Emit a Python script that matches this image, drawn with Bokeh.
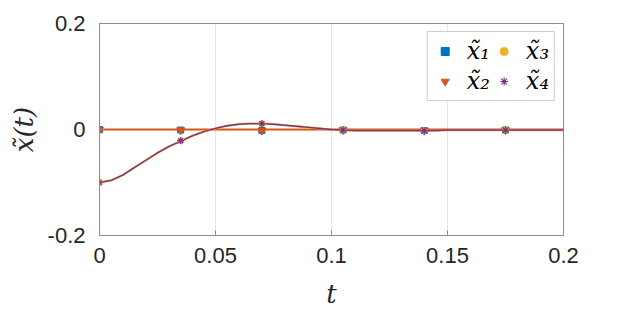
from bokeh.plotting import figure
from bokeh.models import Range1d, FixedTicker, LegendItem, Legend
from bokeh.embed import file_html
from bokeh.resources import INLINE

# ---- data ----
t_line = [0.000, 0.005, 0.010, 0.015, 0.020, 0.025, 0.030, 0.035, 0.040, 0.045,
          0.050, 0.055, 0.060, 0.065, 0.070, 0.075, 0.080, 0.085, 0.090, 0.095,
          0.100, 0.105, 0.110, 0.115, 0.120, 0.125, 0.130, 0.135, 0.140, 0.145,
          0.150, 0.155, 0.160, 0.165, 0.170, 0.175, 0.180, 0.185, 0.190, 0.195, 0.200]
x1_line = [0.000, 0.000, 0.000, 0.000, 0.000, 0.000, 0.000, 0.000, 0.000, 0.000,
           0.000, 0.000, 0.000, 0.000, 0.000, 0.000, 0.000, 0.000, 0.000, 0.000,
           0.000, 0.000, 0.000, 0.000, 0.000, 0.000, 0.000, 0.000, 0.000, 0.000,
           0.000, 0.000, 0.000, 0.000, 0.000, 0.000, 0.000, 0.000, 0.000, 0.000, 0.000]
x2_line = [0.000, 0.000, 0.000, 0.000, 0.000, 0.000, 0.000, 0.000, 0.000, 0.000,
           0.000, 0.000, 0.000, 0.000, 0.000, 0.000, 0.000, 0.000, 0.000, 0.000,
           0.000, 0.000, 0.000, 0.000, 0.000, 0.000, 0.000, 0.000, 0.000, 0.000,
           0.000, 0.000, 0.000, 0.000, 0.000, 0.000, 0.000, 0.000, 0.000, 0.000, 0.000]
x3_line = [-0.100, -0.096, -0.086, -0.072, -0.058, -0.044, -0.032, -0.022, -0.012, -0.004,
           0.002, 0.007, 0.010, 0.011, 0.011, 0.010, 0.008, 0.006, 0.004, 0.002,
           0.000, -0.001, -0.002, -0.002, -0.002, -0.002, -0.002, -0.002, -0.002, -0.002,
           -0.001, -0.001, -0.001, -0.001, -0.001, -0.001, -0.001, -0.001, -0.001, -0.001, -0.001]
x4_line = [-0.100, -0.096, -0.086, -0.072, -0.058, -0.044, -0.032, -0.022, -0.012, -0.004,
           0.002, 0.007, 0.010, 0.011, 0.011, 0.010, 0.008, 0.006, 0.004, 0.002,
           0.000, -0.001, -0.002, -0.002, -0.002, -0.002, -0.002, -0.002, -0.002, -0.002,
           -0.001, -0.001, -0.001, -0.001, -0.001, -0.001, -0.001, -0.001, -0.001, -0.001, -0.001]

t_mark = [0.0, 0.035, 0.070, 0.105, 0.140, 0.175]
x1_mark = [0.0, -0.001, -0.002, -0.001, -0.002, -0.001]
x2_mark = [0.0, -0.001, -0.002, -0.001, -0.002, -0.001]
x3_mark = [-0.100, -0.021, 0.011, -0.001, -0.002, -0.001]
x4_mark = [-0.100, -0.021, 0.011, -0.001, -0.002, -0.001]

x_ticks = [0, 0.05, 0.1, 0.15, 0.2]
x_tick_labels = {0: "0", 0.05: "0.05", 0.1: "0.1", 0.15: "0.15", 0.2: "0.2"}
y_ticks = [-0.2, 0, 0.2]
y_tick_labels = {-0.2: "-0.2", 0: "0", 0.2: "0.2"}

labels = ["x\u0303\u2081", "x\u0303\u2082", "x\u0303\u2083", "x\u0303\u2084"]
colors = ["#0072BD", "#D95319", "#EDB120", "#7E2F8E"]

# ---- figure ----
p = figure(width=607, height=296, output_backend="svg", toolbar_location=None,
           x_range=Range1d(0, 0.2), y_range=Range1d(-0.2, 0.2),
           min_border_left=99, min_border_right=44, min_border_top=23, min_border_bottom=61)
p.frame_width = 464
p.frame_height = 212

p.outline_line_color = "#8c8c8c"
p.outline_line_width = 1
p.background_fill_color = "white"
p.border_fill_color = "white"

p.xgrid.ticker = FixedTicker(ticks=x_ticks)
p.xgrid.grid_line_color = "#e6e6e6"
p.xgrid.grid_line_width = 1
p.ygrid.grid_line_color = None

for ax in (p.xaxis[0], p.yaxis[0]):
    ax.axis_line_color = "#8c8c8c"
    ax.major_tick_line_color = "#8c8c8c"
    ax.major_tick_in = 5
    ax.major_tick_out = 0
    ax.minor_tick_line_color = None
    ax.major_label_text_font = "Liberation Sans"
    ax.major_label_text_font_size = "22px"
    ax.major_label_text_color = "#262626"
    ax.axis_label_text_font = "DejaVu Serif"
    ax.axis_label_text_font_style = "italic"
    ax.axis_label_text_font_size = "26px"
    ax.axis_label_text_color = "#262626"

p.xaxis.ticker = FixedTicker(ticks=x_ticks)
p.xaxis.major_label_overrides = x_tick_labels
p.xaxis.major_label_standoff = 12
p.xaxis.axis_label = "t"
p.xaxis.axis_label_standoff = 13

p.yaxis.ticker = FixedTicker(ticks=y_ticks)
p.yaxis.major_label_overrides = y_tick_labels
p.yaxis.major_label_standoff = 14
p.yaxis.axis_label = "x\u0303(t)"
p.yaxis.axis_label_standoff = 6

# lines
p.line(t_line, x1_line, line_color=colors[0], line_width=1.0)
p.line(t_line, x2_line, line_color=colors[1], line_width=1.8)
p.line(t_line, x3_line, line_color=colors[2], line_width=2.2)
p.line(t_line, x4_line, line_color=colors[3], line_width=1.4)

# markers
r1 = p.scatter(t_mark, x1_mark, marker="square", size=6, fill_color=colors[0], line_color=colors[0])
r2 = p.scatter(t_mark, x2_mark, marker="inverted_triangle", size=8, fill_color=colors[1], line_color=colors[1])
r3 = p.scatter(t_mark, x3_mark, marker="circle", size=6, fill_color=colors[2], line_color=colors[2])
r4 = p.scatter(t_mark, x4_mark, marker="asterisk", size=7, line_color=colors[3], line_width=1.2)

legend = Legend(items=[LegendItem(label=labels[0], renderers=[r1]),
                       LegendItem(label=labels[1], renderers=[r2]),
                       LegendItem(label=labels[2], renderers=[r3]),
                       LegendItem(label=labels[3], renderers=[r4])],
                location="top_right", ncols=2)
legend.label_text_font = "DejaVu Serif"
legend.label_text_font_style = "italic"
legend.label_text_font_size = "24px"
legend.label_text_color = "#000000"
legend.border_line_color = "#a0a0a0"
legend.border_line_width = 1
legend.background_fill_color = "white"
legend.background_fill_alpha = 1.0
legend.margin = 8
legend.padding = 5
legend.spacing = 2
legend.glyph_width = 24
legend.label_standoff = 10
legend.label_height = 26
p.add_layout(legend)

open("out.html", "w").write(file_html(p, INLINE))
